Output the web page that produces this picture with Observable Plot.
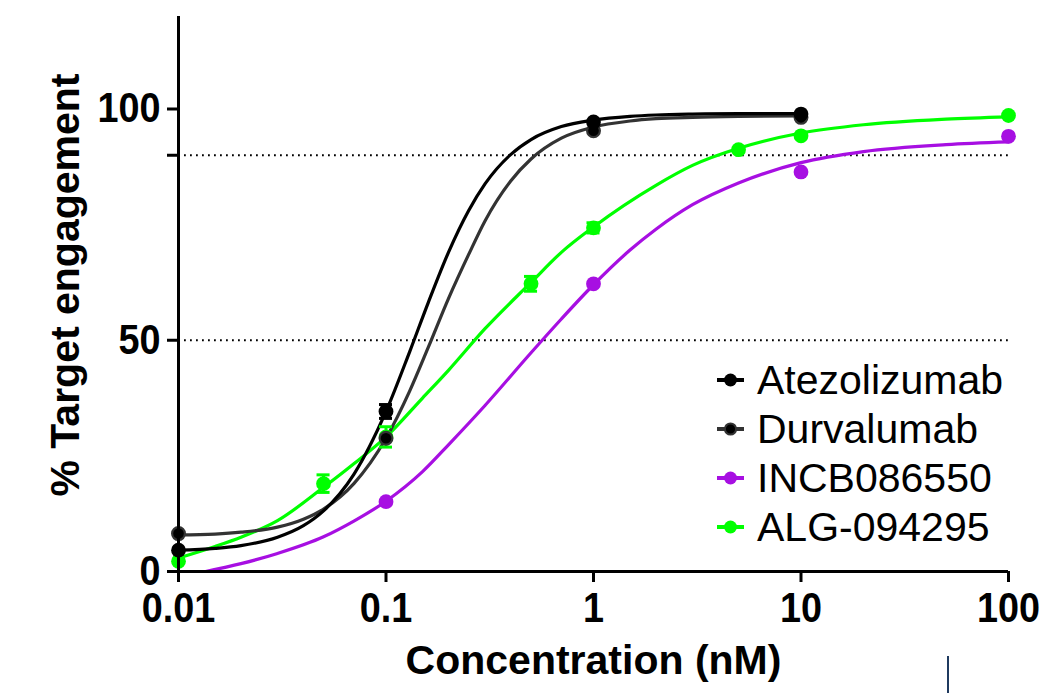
<!DOCTYPE html>
<html>
<head>
<meta charset="utf-8">
<script src="https://cdn.jsdelivr.net/npm/d3@7"></script>
<script src="https://cdn.jsdelivr.net/npm/@observablehq/plot@0.6"></script>
<style>
  html, body { margin: 0; padding: 0; background: #fff; }
  #wrap { position: relative; width: 1052px; height: 693px; overflow: hidden; background: #fff; }
  #legend { position: absolute; left: 717px; top: 0; font-family: "Liberation Sans", Arial, sans-serif; font-size: 41px; color: #000; }
  .item { position: absolute; left: 0; height: 48px; display: flex; align-items: center; white-space: nowrap; }
  .item svg { display: block; margin-right: 13px; }
  #artifact { position: absolute; left: 947px; top: 656px; width: 2px; height: 40px; background: #1f3a5f; }
</style>
</head>
<body>
<div id="wrap"><div id="chart"></div><div id="legend"></div><div id="artifact"></div></div>
<script>
// ---- Data ----
const seriesNames = ["Atezolizumab", "Durvalumab", "INCB086550", "ALG-094295"];
const seriesColors = ["#000000", "#333333", "#A70FE2", "#00FF00"];

const xTicks = [0.01, 0.1, 1, 10, 100];
const xTickLabels = ["0.01", "0.1", "1", "10", "100"];
const yTicks = [0, 50, 90, 100];
const yTickLabels = ["0", "50", "", "100"];
const refLevels = [50, 90];

// measured points (mean ± error)
const atezoConc = [0.01, 0.1, 1, 10];
const atezoMean = [4.6, 34.6, 97.2, 98.9];
const atezoErr  = [0.3, 1.5, 0.5, 0.3];

const durvaConc = [0.01, 0.1, 1, 10];
const durvaMean = [8.2, 28.8, 95.3, 98.2];
const durvaErr  = [0.3, 0.8, 0.5, 0.3];

const incbConc = [0.1, 1, 10, 100];
const incbMean = [15.1, 62.2, 86.4, 94.1];
const incbErr  = [0.3, 0.5, 0.5, 0.3];

const algConc = [0.01, 0.05, 0.1, 0.5, 1, 5, 10, 100];
const algMean = [2.2, 19.0, 29.1, 62.2, 74.3, 91.2, 94.2, 98.6];
const algErr  = [0.4, 1.9, 2.2, 1.6, 1.1, 0.4, 0.4, 0.3];

// fitted curves
const atezoCurveConc = [0.01, 0.015, 0.02, 0.03, 0.04, 0.05, 0.07, 0.1, 0.13, 0.16, 0.2, 0.25, 0.3, 0.4, 0.5, 0.7, 1, 1.5, 2, 3, 5, 10];
const atezoCurveVal  = [4.6, 5.0, 5.6, 7.4, 9.9, 13.1, 21.0, 34.6, 47.5, 58.2, 69.0, 78.0, 83.8, 90.2, 93.4, 96.2, 97.6, 98.4, 98.7, 98.9, 99.0, 99.0];

const durvaCurveConc = [0.01, 0.015, 0.02, 0.03, 0.04, 0.05, 0.07, 0.1, 0.13, 0.16, 0.2, 0.25, 0.3, 0.4, 0.5, 0.7, 1, 1.5, 2, 3, 5, 10];
const durvaCurveVal  = [7.9, 8.1, 8.5, 9.6, 11.3, 13.5, 19.0, 28.8, 39.0, 48.5, 59.0, 68.5, 75.8, 84.5, 89.2, 93.7, 96.1, 97.4, 97.9, 98.2, 98.4, 98.5];

const incbCurveConc = [0.0135, 0.02, 0.03, 0.05, 0.07, 0.1, 0.15, 0.2, 0.3, 0.5, 0.7, 1, 1.5, 2, 3, 5, 10, 20, 50, 100];
const incbCurveVal  = [0, 1.7, 3.9, 7.5, 10.9, 15.2, 21.6, 27.4, 35.9, 47.3, 54.6, 62.0, 69.5, 74.0, 79.3, 84.0, 88.4, 90.8, 92.3, 92.9];

const algCurveConc = [0.01, 0.015, 0.02, 0.03, 0.05, 0.07, 0.1, 0.15, 0.2, 0.3, 0.5, 0.7, 1, 2, 3, 5, 10, 20, 50, 100];
const algCurveVal  = [2.9, 5.4, 7.4, 11.0, 18.2, 23.3, 29.1, 37.5, 43.5, 52.5, 62.5, 69.0, 74.5, 83.5, 87.8, 91.5, 94.8, 96.6, 97.8, 98.3];

// ---- Build tables ----
const pointSets = [
  [atezoConc, atezoMean, atezoErr],
  [durvaConc, durvaMean, durvaErr],
  [incbConc, incbMean, incbErr],
  [algConc, algMean, algErr]
].map(([c, m, e], s) => c.map((x, i) => ({series: seriesNames[s], c: x, v: m[i], e: e[i]})));

const curveSets = [
  [atezoCurveConc, atezoCurveVal],
  [durvaCurveConc, durvaCurveVal],
  [incbCurveConc, incbCurveVal],
  [algCurveConc, algCurveVal]
].map(([c, v], s) => c.map((x, i) => ({series: seriesNames[s], c: x, v: v[i]})));

const font = "Liberation Sans, Arial, Helvetica, sans-serif";
const drawOrder = [3, 2, 1, 0];
const marks = [];

marks.push(Plot.ruleY(refLevels, {x1: xTicks[0], x2: xTicks[xTicks.length - 1], stroke: "#000", strokeWidth: 1.8, strokeDasharray: "1.8,4.2"}));

for (const s of drawOrder) {
  const col = seriesColors[s];
  marks.push(Plot.line(curveSets[s], {x: "c", y: "v", stroke: col, strokeWidth: 3.2, curve: "monotone-x"}));
}
for (const s of drawOrder) {
  const col = seriesColors[s];
  const withErr = pointSets[s].filter(d => d.e >= 1);
  marks.push(Plot.ruleX(withErr, {x: "c", y1: d => d.v - d.e, y2: d => d.v + d.e, stroke: col, strokeWidth: 3}));
  marks.push(Plot.ruleY(withErr, {y: d => d.v + d.e, x1: d => d.c / 1.075, x2: d => d.c * 1.075, stroke: col, strokeWidth: 3}));
  marks.push(Plot.ruleY(withErr, {y: d => d.v - d.e, x1: d => d.c / 1.075, x2: d => d.c * 1.075, stroke: col, strokeWidth: 3}));
  if (s === 1) {
    marks.push(Plot.dot(pointSets[s], {x: "c", y: "v", r: 6.4, fill: "#000", stroke: col, strokeWidth: 2.2}));
  } else {
    marks.push(Plot.dot(pointSets[s], {x: "c", y: "v", r: 7.4, fill: col}));
  }
}

// axes
marks.push(Plot.ruleX([xTicks[0]], {y1: 0, y2: 120, stroke: "#000", strokeWidth: 3}));
marks.push(Plot.ruleY([0], {x1: xTicks[0], x2: xTicks[xTicks.length - 1], stroke: "#000", strokeWidth: 3}));
marks.push(Plot.axisY({ticks: yTicks, tickFormat: d => yTickLabels[yTicks.indexOf(d)], tickSize: 11, tickPadding: 7, fontSize: 42, fontWeight: "bold", strokeWidth: 3, label: null}));
marks.push(Plot.axisX({ticks: xTicks, tickFormat: d => xTickLabels[xTicks.indexOf(d)], tickSize: 11, tickPadding: 10, fontSize: 42, fontWeight: "bold", strokeWidth: 3, label: null}));
marks.push(Plot.text(["% Target engagement"], {frameAnchor: "left", textAnchor: "middle", rotate: -90, dx: -113, dy: -9, fontSize: 41, fontWeight: "bold", lineAnchor: "middle"}));
marks.push(Plot.text(["Concentration (nM)"], {frameAnchor: "bottom", dy: 89, fontSize: 41, fontWeight: "bold", lineAnchor: "middle"}));

const chart = Plot.plot({
  width: 1052,
  height: 693,
  marginLeft: 178,
  marginRight: 44,
  marginTop: 16,
  marginBottom: 122,
  style: {fontFamily: font, background: "#fff", overflow: "visible"},
  x: {type: "log", domain: [xTicks[0], xTicks[xTicks.length - 1]]},
  y: {domain: [0, 120]},
  marks
});
document.getElementById("chart").appendChild(chart);

// tick labels in the reference are slightly condensed
d3.select(chart).selectAll('g[aria-label="x-axis tick label"] text, g[aria-label="y-axis tick label"] text')
  .attr("transform", function () { return (this.getAttribute("transform") || "") + " scale(0.9,1)"; });

// ---- Legend (HTML overlay) ----
const legend = document.getElementById("legend");
const rowCenters = [380, 429, 478, 527];
seriesNames.forEach((name, s) => {
  const row = document.createElement("div");
  row.className = "item";
  row.style.top = (rowCenters[s] - 24) + "px";
  const col = seriesColors[s];
  const dotFill = s === 1 ? "#000" : col;
  const dotStroke = s === 1 ? col : "none";
  const dotR = s === 1 ? 5.6 : 6.5;
  row.innerHTML = `<svg width="27" height="20" viewBox="0 0 27 20">
      <line x1="0" y1="10" x2="27" y2="10" stroke="${col}" stroke-width="4"/>
      <circle cx="13.5" cy="10" r="${dotR}" fill="${dotFill}" stroke="${dotStroke}" stroke-width="2"/>
    </svg><span>${name}</span>`;
  legend.appendChild(row);
});
</script>
</body>
</html>
